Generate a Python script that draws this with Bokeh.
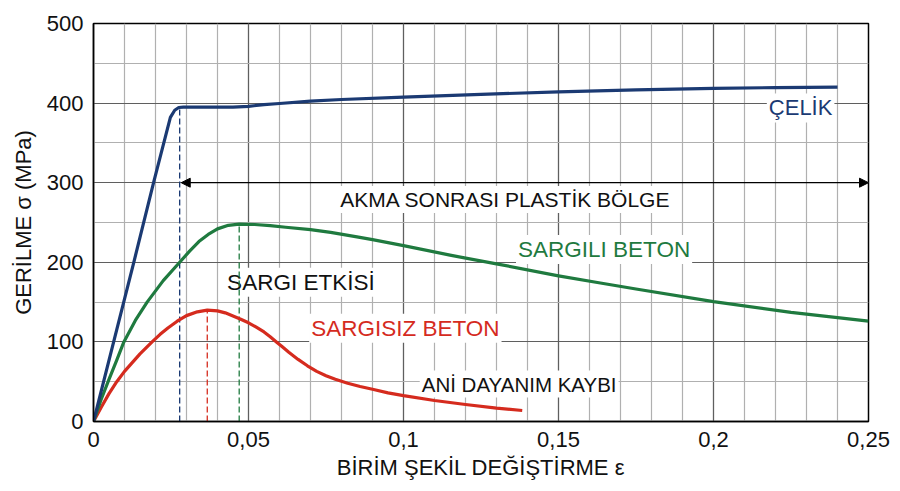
from bokeh.plotting import figure
from bokeh.models import FixedTicker, Label, Arrow, NormalHead, Range1d
from bokeh.embed import file_html
from bokeh.resources import INLINE

# okunan degerler: birim sekil degistirme (eps) / gerilme (MPa)
celik_eps = [0, 0.0065, 0.013, 0.0195, 0.0248, 0.0262, 0.0275, 0.029, 0.037,
             0.045, 0.05, 0.055, 0.06, 0.07, 0.08, 0.1, 0.125, 0.15, 0.175,
             0.2, 0.22, 0.24]
celik_sig = [0, 100, 200, 302, 382, 391, 394.5, 395, 395,
             395, 396, 398, 399.5, 402.5, 404.5, 407.5, 411, 414, 416.5,
             418.5, 419.5, 420]

sargili_eps = [0, 0.0025, 0.0049, 0.0075, 0.0098, 0.0135, 0.0173, 0.0225,
               0.0278, 0.031, 0.034, 0.037, 0.040, 0.0435, 0.047, 0.052,
               0.057, 0.062, 0.07, 0.0765, 0.085, 0.09, 0.1, 0.115, 0.13,
               0.15, 0.1635, 0.175, 0.2, 0.225, 0.25]
sargili_sig = [0, 28, 52, 77, 100, 127, 150, 177,
               200, 214, 226, 235, 242, 246.5, 248, 247.5,
               246, 244, 241, 237.5, 232, 228.5, 221, 209, 198,
               183, 174, 166.5, 150.5, 137, 126]

sargisiz_eps = [0, 0.0025, 0.005, 0.0075, 0.01, 0.0125, 0.015, 0.0189,
                0.0215, 0.024, 0.027, 0.03, 0.0335, 0.0367, 0.04, 0.0425,
                0.045, 0.0475, 0.05, 0.0525, 0.055, 0.057, 0.059, 0.061,
                0.063, 0.066, 0.069, 0.072, 0.075, 0.078, 0.082, 0.086,
                0.09, 0.095, 0.1, 0.11, 0.12, 0.13, 0.1383]
sargisiz_sig = [0, 18, 35, 50, 63, 74, 85, 100,
                109.5, 117.5, 126, 133, 137.8, 140, 139, 136.5,
                132.5, 128.5, 124, 118.5, 112.5, 106.5, 100, 93.5,
                87, 78, 70, 63, 57.5, 53, 48, 44,
                40.5, 36, 32.5, 26.4, 21.4, 16.8, 13.8]

# akma / tepe noktalari
celik_akma = (0.0278, 395)
sargili_tepe = (0.047, 248)
sargisiz_tepe = (0.0367, 140)
plastik_bolge = (0.0283, 0.25, 300)

x_ticks = [0, 0.05, 0.1, 0.15, 0.2, 0.25]
x_tick_labels = ["0", "0,05", "0,1", "0,15", "0,2", "0,25"]
x_minor = [i / 100 for i in range(26)]
y_ticks = [0, 100, 200, 300, 400, 500]
y_minor = [i * 50 for i in range(11)]

MAVI = "#1b3a73"
YESIL = "#1f7a3f"
KIRMIZI = "#d52b1e"
SIYAH = "#111111"
FONT = "Liberation Sans"

p = figure(width=892, height=483, output_backend="svg", toolbar_location=None,
           x_range=Range1d(0, 0.25), y_range=Range1d(0, 500),
           min_border_left=93, min_border_right=24, min_border_top=23,
           min_border_bottom=62, background_fill_color="white")

p.xaxis.ticker = FixedTicker(ticks=x_ticks, minor_ticks=x_minor)
p.yaxis.ticker = FixedTicker(ticks=y_ticks, minor_ticks=y_minor)
p.xaxis.major_label_overrides = dict(zip(x_ticks, x_tick_labels))

for ax in (p.xaxis, p.yaxis):
    ax.major_tick_out = 0
    ax.major_tick_in = 0
    ax.minor_tick_out = 0
    ax.minor_tick_in = 0
    ax.axis_line_color = "black"
    ax.axis_line_width = 1.5
    ax.major_label_text_font = FONT
    ax.major_label_text_font_size = "22px"
    ax.major_label_text_color = SIYAH
    ax.axis_label_text_font = FONT
    ax.axis_label_text_font_size = "22px"
    ax.axis_label_text_font_style = "normal"
    ax.axis_label_text_color = SIYAH

p.xaxis.axis_label = "BİRİM ŞEKİL DEĞİŞTİRME ε"
p.yaxis.axis_label = "GERİLME σ (MPa)"
p.xaxis.major_label_standoff = 10
p.xaxis.axis_label_standoff = 5
p.yaxis.major_label_standoff = 10
p.yaxis.axis_label_standoff = 8

p.grid.grid_line_color = "#5f5f5f"
p.grid.grid_line_width = 1.2
p.grid.minor_grid_line_color = "#b0b0b0"
p.grid.minor_grid_line_width = 1.2
p.outline_line_color = "black"
p.outline_line_width = 1.5

# etiketler: izgaranin ustunde, egrilerin altinda
etiketler = [
    ("ÇELİK", 0.2281, 394, MAVI, "22px"),
    ("AKMA SONRASI PLASTİK BÖLGE", 0.1329, 279, SIYAH, "21px"),
    ("SARGILI BETON", 0.1647, 216, YESIL, "22.5px"),
    ("SARGI ETKİSİ", 0.0669, 175, SIYAH, "22.5px"),
    ("SARGISIZ BETON", 0.1006, 117, KIRMIZI, "22.5px"),
    ("ANİ DAYANIM KAYBI", 0.1373, 47, SIYAH, "20.5px"),
]
for metin, xv, yv, renk, boy in etiketler:
    p.add_layout(Label(x=xv, y=yv, text=metin, text_align="center",
                       text_baseline="middle", text_font=FONT,
                       text_font_size=boy, text_color=renk,
                       background_fill_color="white", padding=2,
                       level="underlay"))

# kesikli dikey cizgiler
for (xv, yv), renk in ((celik_akma, MAVI), (sargisiz_tepe, KIRMIZI),
                       (sargili_tepe, YESIL)):
    p.segment(x0=[xv], y0=[0], x1=[xv], y1=[yv], line_color=renk,
              line_width=1.3, line_dash="6 3")

p.add_layout(Arrow(
    start=NormalHead(size=9, fill_color="black", line_color="black"),
    end=NormalHead(size=9, fill_color="black", line_color="black"),
    x_start=plastik_bolge[0], x_end=plastik_bolge[1],
    y_start=plastik_bolge[2], y_end=plastik_bolge[2],
    line_color="black", line_width=1.2))

p.line(sargisiz_eps, sargisiz_sig, line_color=KIRMIZI, line_width=3.2,
       line_join="round")
p.line(sargili_eps, sargili_sig, line_color=YESIL, line_width=3.2,
       line_join="round")
p.line(celik_eps, celik_sig, line_color=MAVI, line_width=3.2,
       line_join="round")

open("out.html", "w").write(file_html(p, INLINE))
